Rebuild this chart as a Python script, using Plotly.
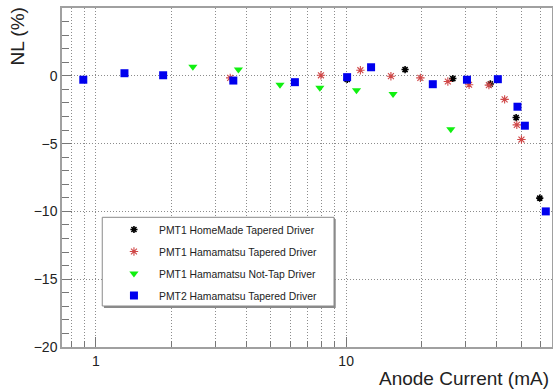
import plotly.graph_objects as go

# ---- data ----
home_x = [10.1, 17.2, 26.7, 37.7, 47.8, 59.4]
home_y = [-0.27, 0.46, -0.2, -0.6, -3.08, -9.02]

hama_x = [3.44, 7.93, 11.4, 15.1, 19.8, 25.5, 31.0, 37.2, 43.0, 48.1, 50.2]
hama_y = [-0.15, 0.04, 0.41, -0.03, -0.15, -0.42, -0.66, -0.69, -1.74, -3.62, -4.7]

nottap_x = [2.44, 3.71, 5.44, 7.85, 11.0, 15.4, 26.2]
nottap_y = [0.66, 0.46, -0.66, -0.88, -1.06, -1.35, -3.95]

pmt2_x = [0.89, 1.30, 1.856, 3.54, 6.24, 10.09, 12.58, 22.2, 30.4, 40.4, 48.4, 51.8, 62.8]
pmt2_y = [-0.29, 0.19, 0.04, -0.35, -0.47, -0.1, 0.63, -0.62, -0.29, -0.25, -2.28, -3.68, -10.0]

names = ["PMT1 HomeMade Tapered Driver", "PMT1 Hamamatsu Tapered Driver",
         "PMT1 Hamamatsu Not-Tap Driver", "PMT2 Hamamatsu Tapered Driver"]

x_major = [1, 10]
x_major_text = ["1", "10"]
x_minor = [0.8, 0.9, 2, 3, 4, 5, 6, 7, 8, 9, 20, 30, 40, 50, 60]
y_ticks = [-20, -15, -10, -5, 0, 5]

FONT = "Liberation Sans, Arial, Helvetica, sans-serif"

fig = go.Figure()
fig.add_trace(go.Scatter(x=home_x, y=home_y, mode="markers", name=names[0], legendgroup="a",
                         marker=dict(symbol="asterisk-open", size=6, color="black",
                                     line=dict(color="black", width=1.6))))
fig.add_trace(go.Scatter(x=hama_x, y=hama_y, mode="markers", name=names[1], legendgroup="b",
                         marker=dict(symbol="asterisk-open", size=7, color="#d04848",
                                     line=dict(color="#d04848", width=1.1))))
fig.add_trace(go.Scatter(x=nottap_x, y=nottap_y, mode="markers", name=names[2], legendgroup="c",
                         marker=dict(symbol="triangle-down", size=8, color="#10f010",
                                     line=dict(width=0))))
fig.add_trace(go.Scatter(x=pmt2_x, y=pmt2_y, mode="markers", name=names[3], legendgroup="d",
                         marker=dict(symbol="square", size=8, color="#0000ee",
                                     line=dict(width=0))))

GRIDC = "#8c8c8c"
GDASH = "1px,2px"
grid = dict(gridcolor=GRIDC, griddash=GDASH, gridwidth=1)

fig.update_xaxes(type="log", range=[-0.1357, 1.8228], automargin=False,
                 tickmode="array", tickvals=x_major, ticktext=x_major_text,
                 ticks="inside", ticklen=10, tickcolor="#777", tickwidth=1,
                 showline=True, linecolor="#a0a0a0", linewidth=1.5, mirror=True,
                 showgrid=True, zeroline=False, **grid,
                 minor=dict(tickmode="array", tickvals=x_minor, ticks="inside", ticklen=6,
                            tickcolor="#777", showgrid=True, gridcolor=GRIDC,
                            griddash=GDASH, gridwidth=1),
                 tickfont=dict(family=FONT, size=14, color="#222"))
fig.update_yaxes(range=[-20, 5], tickmode="array", tickvals=y_ticks, automargin=False,
                 ticks="inside", ticklen=10, tickcolor="#777", tickwidth=1,
                 showline=True, linecolor="#a0a0a0", linewidth=1.5, mirror=True,
                 showgrid=True, zeroline=False, **grid,
                 minor=dict(dtick=1, ticks="inside", ticklen=7, tickcolor="#777", showgrid=False),
                 tickfont=dict(family=FONT, size=14, color="#222"))

# legend box with ROOT-like shadow
fig.add_shape(type="rect", xref="paper", yref="paper",
              x0=(104 - 62) / 490.5, x1=(336 - 62) / 490.5,
              y0=(347 - 308) / 339, y1=(347 - 219) / 339,
              line=dict(width=0), fillcolor="#8a8a8a", layer="above")
fig.add_shape(type="rect", xref="paper", yref="paper",
              x0=(102.3 - 62) / 490.5, x1=(334.3 - 62) / 490.5,
              y0=(347 - 306) / 339, y1=(347 - 217.3) / 339,
              line=dict(width=1, color="#8a8a8a"), fillcolor="white", layer="above")

fig.update_layout(
    width=553, height=392,
    margin=dict(l=62, r=0.5, t=8, b=45, autoexpand=False),
    paper_bgcolor="white", plot_bgcolor="white",
    font=dict(family=FONT, size=12, color="#222"),
    showlegend=True,
    legend=dict(x=(109 - 62) / 490.5, y=(347 - 215) / 339, xanchor="left", yanchor="top",
                bgcolor="rgba(0,0,0,0)", borderwidth=0, tracegroupgap=3,
                itemwidth=40, font=dict(family=FONT, size=10.4, color="#222")),
    annotations=[
        dict(text="NL (%)", xref="paper", yref="paper", x=(16.5 - 62) / 490.5,
             y=(347 - 37) / 339, textangle=-90, showarrow=False,
             font=dict(family=FONT, size=19, color="#222"), xanchor="center", yanchor="middle"),
        dict(text="Anode Current (mA)", xref="paper", yref="paper", x=(551 - 62) / 490.5,
             y=-(378 - 347) / 339, showarrow=False, xanchor="right", yanchor="middle",
             font=dict(family=FONT, size=19, color="#222")),
    ],
)

fig.write_html("out.html", config={"displayModeBar": False},
               post_script="document.body.style.margin='0';document.body.style.padding='0';")
